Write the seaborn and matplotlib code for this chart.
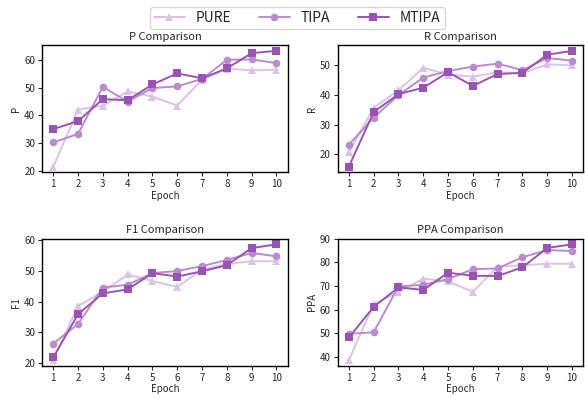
import numpy as np
import pandas as pd
import matplotlib
matplotlib.use("Agg")
import matplotlib.pyplot as plt
import seaborn as sns

epochs = list(range(1, 11))
modelos = ["PURE", "TIPA", "MTIPA"]

# valores
p_pure = [21.5, 42.0, 43.5, 48.6, 46.7, 43.5, 52.8, 56.8, 56.2, 56.4]
p_tipa = [30.2, 33.3, 50.2, 44.9, 49.8, 50.4, 53.1, 60.0, 60.1, 58.8]
p_mtipa = [35.0, 37.9, 45.8, 45.4, 51.1, 55.1, 53.3, 56.9, 62.4, 63.2]

r_pure = [20.7, 35.7, 41.6, 49.2, 46.9, 46.2, 47.7, 47.4, 50.4, 50.0]
r_tipa = [23.3, 32.4, 40.0, 45.9, 48.1, 49.6, 50.6, 48.4, 52.5, 51.6]
r_mtipa = [15.9, 34.3, 40.3, 42.5, 47.7, 43.1, 47.1, 47.5, 53.6, 54.9]

f1_pure = [20.9, 38.6, 43.2, 48.9, 46.7, 44.8, 50.4, 52.3, 53.2, 53.2]
f1_tipa = [26.3, 32.7, 44.6, 45.5, 49.3, 50.0, 51.6, 53.6, 55.9, 54.8]
f1_mtipa = [21.8, 35.9, 42.7, 44.0, 49.3, 48.2, 49.9, 51.9, 57.5, 58.7]

ppa_pure = [38.6, 62.3, 67.4, 73.1, 71.9, 67.5, 78.2, 78.7, 79.4, 79.4]
ppa_tipa = [49.7, 50.4, 69.8, 70.5, 72.9, 77.1, 77.4, 82.2, 85.2, 84.8]
ppa_mtipa = [48.2, 61.1, 69.4, 68.3, 75.6, 74.3, 74.2, 77.9, 86.1, 87.6]

metricas = {
    "P": [p_pure, p_tipa, p_mtipa],
    "R": [r_pure, r_tipa, r_mtipa],
    "F1": [f1_pure, f1_tipa, f1_mtipa],
    "PPA": [ppa_pure, ppa_tipa, ppa_mtipa],
}

cores = {"PURE": "#dcc2e6", "TIPA": "#bb8bd2", "MTIPA": "#9a52b9"}
marcadores = {"PURE": "^", "TIPA": "o", "MTIPA": "s"}

sns.set_style("ticks")
plt.rcParams["font.family"] = ["Noto Sans CJK SC", "DejaVu Sans"]

fig, axes = plt.subplots(2, 2, figsize=(5.85, 3.99), dpi=100)
fig.subplots_adjust(left=0.072, right=0.997, top=0.887, bottom=0.083,
                    wspace=0.204, hspace=0.52)

for ax, (nome, series) in zip(axes.flat, metricas.items()):
    linhas = []
    for modelo, valores in zip(modelos, series):
        for e, v in zip(epochs, valores):
            linhas.append({"Epoch": e, "valor": v, "modelo": modelo})
    df = pd.DataFrame(linhas)
    for modelo in modelos:
        sub = df[df["modelo"] == modelo]
        sns.lineplot(data=sub, x="Epoch", y="valor", ax=ax, color=cores[modelo],
                     marker=marcadores[modelo], markersize=5.5, linewidth=1.4,
                     markeredgewidth=0, label=modelo, legend=False)
    ax.set_xticks(epochs)
    ax.set_title(f"{nome} Comparison", fontsize=8, pad=4)
    ax.set_xlabel("Epoch", fontsize=7, labelpad=1)
    ax.set_ylabel(nome, fontsize=7, labelpad=2)
    ax.tick_params(labelsize=7, length=3, pad=2)
    for s in ax.spines.values():
        s.set_linewidth(1.0)
        s.set_color("black")

handles, labels = axes[0, 0].get_legend_handles_labels()
fig.legend(handles, labels, loc="upper center", ncol=3, fontsize=10,
           bbox_to_anchor=(0.508, 1.0), frameon=True, handlelength=2.2,
           columnspacing=2.0, borderpad=0.3)

fig.savefig("out.png", dpi=100)
